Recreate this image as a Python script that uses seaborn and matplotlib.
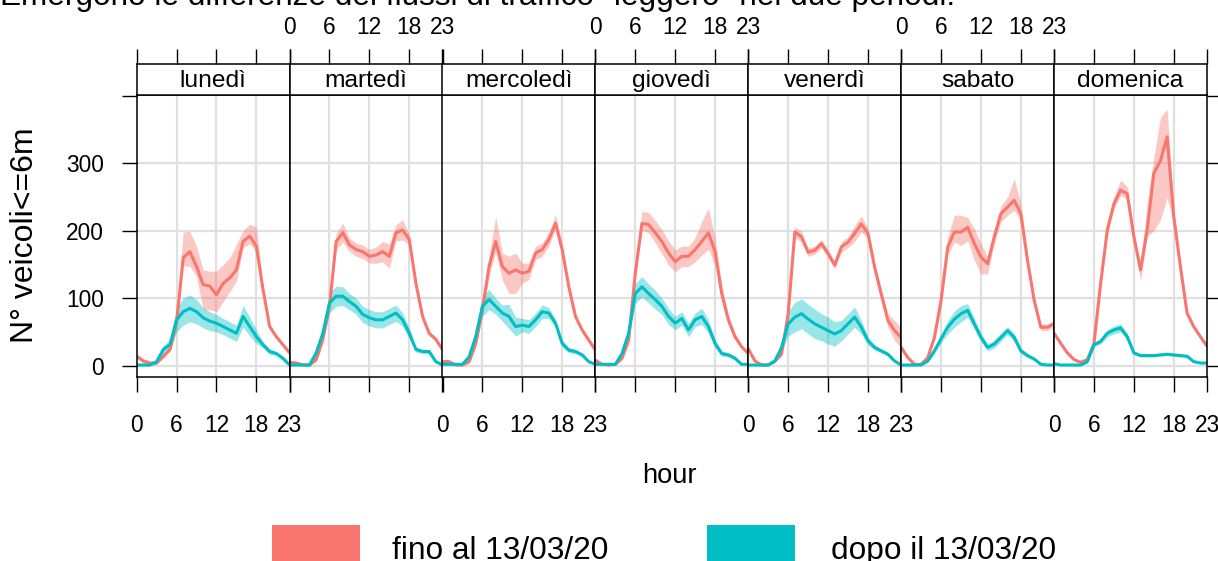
import numpy as np
import pandas as pd
import matplotlib
matplotlib.use("Agg")
import matplotlib.pyplot as plt
import seaborn as sns
from matplotlib.patches import Rectangle
from matplotlib import font_manager as fm

# ---------------- data ----------------
hours = list(range(24))
days = ["lunedì", "martedì", "mercoledì", "giovedì", "venerdì", "sabato", "domenica"]
periods = ["fino al 13/03/20", "dopo il 13/03/20"]
colors = ["#F8766D", "#00BFC4"]
x_ticks = [0, 6, 12, 18, 23]
y_ticks = [0, 100, 200, 300, 400]
y_ticklabels = ["0", "100", "200", "300", ""]
title = "Emergono le differenze dei flussi di traffico \"leggero\" nei due periodi."
x_label = "hour"
y_label = "N° veicoli<=6m"

# mean, upper half-width, lower half-width (fino = before, dopo = after)
lun_fino = [14, 7, 4, 4, 14, 24, 65, 160, 169, 147, 120, 118, 105, 122, 130, 142, 184, 192, 177, 113, 58, 43, 31, 19]
lun_fino_up = [3, 3, 2, 2, 3, 3, 10, 38, 30, 30, 22, 22, 35, 28, 30, 38, 16, 18, 28, 5, 4, 3, 3, 3]
lun_fino_dn = [3, 3, 2, 2, 3, 3, 10, 12, 22, 15, 37, 35, 25, 27, 20, 17, 9, 12, 7, 5, 4, 3, 3, 3]
lun_dopo = [1, 1, 1, 6, 24, 31, 68, 80, 85, 80, 71, 66, 63, 58, 53, 48, 73, 58, 43, 31, 21, 18, 11, 1]
lun_dopo_err = [2, 2, 2, 4, 6, 8, 18, 20, 20, 18, 15, 14, 13, 12, 12, 12, 16, 14, 10, 5, 4, 3, 3, 2]

mar_fino = [5, 4, 1, 1, 9, 39, 88, 184, 197, 179, 172, 169, 162, 164, 169, 162, 197, 201, 187, 122, 73, 48, 39, 24]
mar_fino_err = [2, 2, 1, 1, 3, 5, 8, 12, 14, 10, 10, 10, 10, 12, 15, 18, 12, 15, 8, 5, 4, 3, 3, 3]
mar_dopo = [1, 1, 1, 1, 19, 48, 93, 103, 103, 95, 88, 76, 71, 68, 68, 73, 78, 68, 48, 24, 21, 21, 6, 1]
mar_dopo_err = [1, 1, 1, 1, 4, 8, 15, 15, 14, 12, 12, 12, 12, 12, 12, 12, 12, 10, 8, 4, 3, 3, 2, 1]

mer_fino = [6, 6, 1, 1, 6, 33, 83, 147, 184, 147, 137, 142, 137, 140, 167, 172, 187, 211, 172, 117, 73, 53, 38, 23]
mer_fino_up = [2, 2, 1, 1, 3, 5, 10, 15, 37, 20, 25, 25, 15, 12, 10, 10, 10, 13, 8, 5, 4, 3, 3, 3]
mer_fino_dn = [2, 2, 1, 1, 3, 5, 10, 15, 15, 20, 30, 35, 15, 12, 10, 10, 10, 8, 8, 5, 4, 3, 3, 3]
mer_dopo = [2, 2, 2, 2, 13, 43, 88, 98, 88, 78, 73, 58, 60, 58, 68, 80, 78, 63, 33, 23, 21, 16, 6, 2]
mer_dopo_err = [1, 1, 1, 1, 4, 8, 15, 15, 12, 12, 18, 14, 10, 10, 10, 10, 8, 6, 5, 4, 3, 3, 2, 1]

gio_fino = [8, 2, 1, 2, 11, 38, 137, 211, 209, 197, 184, 167, 154, 162, 162, 172, 184, 197, 169, 107, 68, 43, 28, 18]
gio_fino_up = [2, 1, 1, 1, 3, 5, 10, 18, 18, 18, 18, 18, 18, 15, 15, 18, 30, 37, 20, 12, 8, 5, 3, 3]
gio_fino_dn = [2, 1, 1, 1, 3, 5, 10, 10, 12, 15, 18, 18, 15, 15, 15, 18, 20, 25, 20, 12, 8, 5, 3, 3]
gio_dopo = [2, 2, 2, 2, 18, 48, 107, 117, 107, 98, 88, 73, 63, 70, 53, 68, 73, 58, 33, 18, 16, 11, 2, 2]
gio_dopo_err = [1, 1, 1, 1, 4, 8, 15, 15, 14, 14, 12, 12, 10, 10, 10, 10, 12, 10, 6, 4, 3, 3, 1, 1]

ven_fino = [25, 7, 1, 1, 7, 17, 77, 198, 191, 168, 171, 181, 166, 149, 176, 183, 196, 210, 196, 146, 106, 67, 52, 42]
ven_fino_err = [3, 2, 1, 1, 2, 3, 6, 8, 8, 6, 6, 6, 6, 6, 8, 8, 12, 12, 8, 6, 8, 10, 15, 15]
ven_dopo = [1, 1, 1, 1, 7, 27, 62, 72, 77, 69, 62, 57, 52, 47, 52, 62, 72, 57, 37, 27, 22, 17, 7, 1]
ven_dopo_err = [1, 1, 1, 1, 3, 6, 18, 22, 22, 22, 22, 20, 20, 18, 15, 15, 15, 10, 6, 4, 3, 3, 2, 1]

sab_fino = [27, 12, 2, 2, 12, 42, 97, 176, 198, 198, 205, 181, 161, 151, 191, 225, 235, 245, 225, 156, 97, 57, 57, 62]
sab_fino_up = [3, 2, 1, 1, 3, 5, 8, 15, 25, 25, 15, 22, 20, 10, 10, 12, 15, 32, 15, 8, 5, 5, 5, 5]
sab_fino_dn = [3, 2, 1, 1, 3, 5, 8, 12, 15, 20, 20, 25, 25, 15, 10, 12, 12, 15, 10, 8, 5, 5, 5, 5]
sab_dopo = [1, 1, 1, 1, 7, 22, 40, 57, 69, 77, 82, 62, 42, 27, 32, 42, 52, 42, 22, 15, 10, 2, 1, 1]
sab_dopo_err = [1, 1, 1, 1, 2, 4, 6, 10, 12, 12, 10, 8, 6, 5, 6, 6, 6, 6, 4, 3, 2, 1, 1, 1]

dom_fino = [48, 33, 19, 9, 5, 9, 33, 122, 201, 240, 260, 255, 191, 142, 201, 285, 304, 339, 221, 147, 78, 58, 43, 29]
dom_fino_up = [3, 3, 2, 2, 2, 2, 4, 8, 8, 10, 15, 10, 8, 8, 40, 24, 64, 41, 10, 6, 4, 3, 3, 3]
dom_fino_dn = [3, 3, 2, 2, 2, 2, 4, 8, 8, 8, 8, 8, 8, 17, 10, 85, 88, 90, 10, 6, 4, 3, 3, 3]
dom_dopo = [3, 1, 1, 1, 1, 6, 31, 36, 48, 53, 56, 43, 19, 15, 15, 15, 16, 17, 16, 15, 14, 6, 4, 4]
dom_dopo_err = [1, 1, 1, 1, 1, 2, 3, 4, 5, 6, 6, 5, 3, 2, 2, 2, 2, 2, 2, 2, 2, 1, 1, 1]

series = {
    "lunedì": [(lun_fino, lun_fino_up, lun_fino_dn), (lun_dopo, lun_dopo_err, lun_dopo_err)],
    "martedì": [(mar_fino, mar_fino_err, mar_fino_err), (mar_dopo, mar_dopo_err, mar_dopo_err)],
    "mercoledì": [(mer_fino, mer_fino_up, mer_fino_dn), (mer_dopo, mer_dopo_err, mer_dopo_err)],
    "giovedì": [(gio_fino, gio_fino_up, gio_fino_dn), (gio_dopo, gio_dopo_err, gio_dopo_err)],
    "venerdì": [(ven_fino, ven_fino_err, ven_fino_err), (ven_dopo, ven_dopo_err, ven_dopo_err)],
    "sabato": [(sab_fino, sab_fino_up, sab_fino_dn), (sab_dopo, sab_dopo_err, sab_dopo_err)],
    "domenica": [(dom_fino, dom_fino_up, dom_fino_dn), (dom_dopo, dom_dopo_err, dom_dopo_err)],
}

rows = []
for d in days:
    for p, (m, up, dn) in zip(periods, series[d]):
        for h, mv, u, l in zip(hours, m, up, dn):
            rows.append(dict(day=d, period=p, hour=h, value=mv, hi=mv + u, lo=max(mv - l, 0)))
df = pd.DataFrame(rows)

# ---------------- style ----------------
sns.set_theme(style="white")
names = {f.name for f in fm.fontManager.ttflist}
narrow = "Liberation Sans Narrow" in names
base_font = "Liberation Sans Narrow" if narrow else "Liberation Sans"
k = 1.0 if narrow else 0.82   # shrink regular font to match condensed widths
plt.rcParams["font.family"] = [base_font, "DejaVu Sans"]
for key in ["text.color", "axes.labelcolor", "xtick.color", "ytick.color"]:
    plt.rcParams[key] = "black"

W, H = 1218, 561
fig = plt.figure(figsize=(W / 100, H / 100), dpi=100)
fig.patch.set_facecolor("white")

left0 = 136.7
pw = 152.9
p_top = 94.5
p_bot = 376.5
s_top = 63.5
tick_len = 15 * 0.72
tick_fs = 20 * k
palette = dict(zip(periods, colors))

for i, d in enumerate(days):
    x0 = left0 + i * pw
    ax = fig.add_axes([x0 / W, 1 - p_bot / H, pw / W, (p_bot - p_top) / H])
    sax = fig.add_axes([x0 / W, 1 - p_top / H, pw / W, (p_top - s_top) / H])
    sub = df[df.day == d]
    for gx in [6, 12, 18]:
        ax.axvline(gx, color="#e0e0e0", lw=1.6, zorder=0)
    for gy in [0, 100, 200, 300]:
        ax.axhline(gy, color="#e0e0e0", lw=1.6, zorder=0)
    for p in periods:
        s = sub[sub.period == p]
        ax.fill_between(s.hour, s.lo, s.hi, color=palette[p], alpha=0.4, lw=0)
        sns.lineplot(data=s, x="hour", y="value", color=palette[p], lw=2.2,
                     ax=ax, legend=False, errorbar=None)
    ax.set_xlim(0, 23)
    ax.set_ylim(-16, 401.8)
    ax.set_xlabel("")
    ax.set_ylabel("")
    ax.set_xticks(x_ticks)
    ax.set_xticklabels([str(t) for t in x_ticks])
    ax.tick_params(axis="x", bottom=True, top=False, direction="out", length=tick_len,
                   width=1.0, color="black", labelbottom=(i % 2 == 0), labelsize=tick_fs, pad=16)
    ax.set_yticks(y_ticks)
    ax.set_yticklabels(y_ticklabels)
    ax.tick_params(axis="y", left=(i == 0), right=(i == 6), labelleft=(i == 0), labelright=False,
                   direction="out", length=tick_len, width=1.0, color="black", labelsize=tick_fs, pad=13)
    for sp in ax.spines.values():
        sp.set_color("black")
        sp.set_linewidth(1.1)
    ax.grid(False)

    sax.set_xlim(0, 23)
    sax.set_ylim(0, 1)
    sax.set_yticks([])
    sax.set_xticks(x_ticks)
    sax.set_xticklabels([str(t) for t in x_ticks])
    sax.tick_params(axis="x", top=True, bottom=False, labeltop=(i % 2 == 1), labelbottom=False,
                    direction="out", length=tick_len, width=1.0, color="black", labelsize=tick_fs, pad=6.5)
    sax.set_facecolor("white")
    for sp in sax.spines.values():
        sp.set_color("black")
        sp.set_linewidth(1.1)
    sax.text(11.5, 0.45, d, ha="center", va="center", fontsize=21.5 * k, color="black")

fig.text(669.7 / W, 1 - 476 / H, x_label, ha="center", va="center", fontsize=24 * k)
fig.text(25 / W, 1 - 235.5 / H, y_label, ha="center", va="center", rotation=90, fontsize=23,
         family=["Liberation Sans", "DejaVu Sans"])
fig.text(0, 1 - 5 / H, title, ha="left", va="baseline", fontsize=27.7 * k)

# legend
for (xa, xb), p, tx in [((272, 360), periods[0], 392), ((707, 795), periods[1], 831)]:
    fig.add_artist(Rectangle((xa / W, 1 - 570 / H), (xb - xa) / W, 45 / H,
                             transform=fig.transFigure, color=palette[p], lw=0))
    fig.text(tx / W, 1 - 559 / H, p, ha="left", va="baseline", fontsize=27.8 * k)

fig.savefig("out.png", dpi=100, facecolor="white")
